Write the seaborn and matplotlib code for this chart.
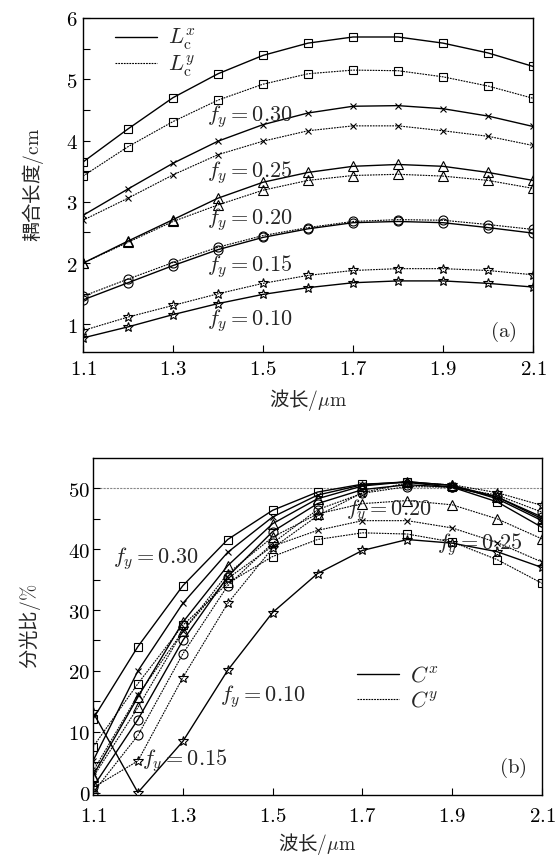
import numpy as np
import pandas as pd
import matplotlib
matplotlib.use("Agg")
import matplotlib.pyplot as plt
import seaborn as sns
from matplotlib.lines import Line2D
from matplotlib.ticker import FixedLocator

sns.set_style("ticks")
plt.rcParams["mathtext.fontset"] = "cm"
plt.rcParams["font.family"] = ["Noto Sans CJK SC", "DejaVu Sans"]
plt.rcParams["xtick.direction"] = "in"
plt.rcParams["ytick.direction"] = "in"

# ---------------- data ----------------
wavelength = [1.1, 1.2, 1.3, 1.4, 1.5, 1.6, 1.7, 1.8, 1.9, 2.0, 2.1]
fy_values = ["0.30", "0.25", "0.20", "0.15", "0.10"]
marker_list = ["s", "x", "^", "o", "*"]

# (a) coupling length / cm
Lx_030 = [3.65, 4.19, 4.70, 5.09, 5.39, 5.59, 5.69, 5.69, 5.59, 5.43, 5.21]
Ly_030 = [3.42, 3.90, 4.31, 4.66, 4.92, 5.09, 5.15, 5.14, 5.04, 4.89, 4.69]
Lx_025 = [2.78, 3.21, 3.63, 3.99, 4.26, 4.45, 4.56, 4.57, 4.52, 4.40, 4.23]
Ly_025 = [2.70, 3.06, 3.44, 3.77, 3.99, 4.16, 4.24, 4.24, 4.16, 4.07, 3.92]
Lx_020 = [2.00, 2.36, 2.71, 3.06, 3.32, 3.48, 3.58, 3.61, 3.58, 3.48, 3.35]
Ly_020 = [2.00, 2.34, 2.68, 2.95, 3.19, 3.35, 3.43, 3.45, 3.42, 3.35, 3.22]
Lx_015 = [1.40, 1.68, 1.96, 2.22, 2.42, 2.56, 2.66, 2.68, 2.66, 2.58, 2.49]
Ly_015 = [1.46, 1.74, 2.01, 2.26, 2.45, 2.58, 2.68, 2.71, 2.70, 2.63, 2.55]
Lx_010 = [0.78, 0.96, 1.16, 1.34, 1.49, 1.60, 1.68, 1.71, 1.71, 1.67, 1.61]
Ly_010 = [0.90, 1.12, 1.31, 1.50, 1.67, 1.80, 1.88, 1.91, 1.91, 1.88, 1.81]

# (b) splitting ratio / %
Cx_030 = [12.1, 24.0, 34.0, 41.6, 46.4, 49.4, 50.7, 51.0, 50.2, 47.8, 43.6]
Cy_030 = [7.5, 17.9, 27.5, 34.4, 38.8, 41.6, 42.7, 42.5, 41.2, 38.3, 34.4]
Cx_025 = [5.2, 20.0, 31.1, 39.5, 45.3, 48.9, 50.6, 51.1, 50.5, 48.3, 44.7]
Cy_025 = [3.5, 16.0, 26.5, 35.2, 40.5, 43.1, 44.7, 44.7, 43.5, 41.1, 37.9]
Cx_020 = [2.8, 15.7, 28.0, 37.3, 44.2, 48.3, 50.4, 51.1, 50.5, 48.6, 45.0]
Cy_020 = [2.5, 14.0, 26.5, 36.0, 42.0, 45.8, 47.5, 48.0, 47.3, 45.0, 41.7]
Cx_015 = [0.9, 12.0, 25.0, 35.5, 42.9, 47.5, 49.8, 50.6, 50.2, 48.6, 45.3]
Cy_015 = [0.0, 9.4, 22.8, 34.0, 41.0, 46.5, 49.2, 50.3, 50.2, 48.9, 46.1]
Cx_010 = [13.2, 0.0, 8.4, 20.1, 29.6, 36.0, 39.8, 41.6, 41.0, 39.6, 37.0]
Cy_010 = [0.8, 5.2, 18.9, 31.1, 40.2, 45.5, 49.3, 50.9, 50.6, 49.3, 47.2]
half_line = 50

top_series = [(Lx_030, Ly_030), (Lx_025, Ly_025), (Lx_020, Ly_020),
              (Lx_015, Ly_015), (Lx_010, Ly_010)]
bot_series = [(Cx_030, Cy_030), (Cx_025, Cy_025), (Cx_020, Cy_020),
              (Cx_015, Cy_015), (Cx_010, Cy_010)]

# label positions (data coords)
top_label_pos = [(1.375, 4.39), (1.375, 3.48), (1.375, 2.71), (1.375, 1.94), (1.375, 1.07)]
bot_label_pos = {"0.30": (1.144, 38.5), "0.25": (1.867, 40.8), "0.20": (1.664, 46.4),
                 "0.15": (1.209, 5.3), "0.10": (1.382, 15.8)}

# ---------------- figure ----------------
W, H = 558, 856
fig = plt.figure(figsize=(W / 100, H / 100), dpi=100)
ax1 = fig.add_axes([83 / W, 1 - 352 / H, 450 / W, 334 / H])
ax2 = fig.add_axes([93 / W, 1 - 795 / H, 449 / W, 337 / H])

msize = {"s": 5.5, "x": 4.5, "^": 6.5, "o": 6.5, "*": 7}
solid_ls = "-"
dash_ls = (0, (1.6, 0.9))


def draw(ax, x, y, mk, ls, lw):
    df = pd.DataFrame({"x": x, "y": y})
    sns.lineplot(data=df, x="x", y="y", ax=ax, color="black", linestyle=ls,
                 linewidth=lw, marker=mk, markersize=msize[mk],
                 markerfacecolor="none", markeredgecolor="black",
                 markeredgewidth=0.8, sort=False, legend=False)


for (sx, sy), mk in zip(top_series, marker_list):
    draw(ax1, wavelength, sx, mk, solid_ls, 1.0)
    draw(ax1, wavelength, sy, mk, dash_ls, 0.8)

ax2.axhline(half_line, color="#888888", linestyle=(0, (2, 1)), linewidth=0.8, zorder=0)
for (sx, sy), mk in zip(bot_series, marker_list):
    draw(ax2, wavelength, sx, mk, solid_ls, 1.0)
    draw(ax2, wavelength, sy, mk, dash_ls, 0.8)

xt = [1.1, 1.3, 1.5, 1.7, 1.9, 2.1]
for ax in (ax1, ax2):
    ax.set_xlim(1.1, 2.1)
    ax.set_xticks(xt)
    ax.set_xticklabels([f"${t}$" for t in xt], fontsize=15)
    for s in ax.spines.values():
        s.set_visible(True)
        s.set_linewidth(1.0)
        s.set_color("black")
    ax.tick_params(axis="both", which="both", direction="in", length=5, width=0.8,
                   colors="black", labelsize=15, top=False, right=False)
    ax.tick_params(axis="x", pad=4)
    ax.tick_params(axis="y", pad=4)
    ax.set_facecolor("white")

ax1.set_ylim(0.55, 6.0)
ax1.yaxis.set_major_locator(FixedLocator([1, 2, 3, 4, 5, 6]))
ax1.set_yticklabels([f"${v}$" for v in [1, 2, 3, 4, 5, 6]])
ax1.yaxis.set_minor_locator(FixedLocator([1.5, 2.5, 3.5, 4.5, 5.5]))

ax2.set_ylim(-0.4, 55)
ax2.yaxis.set_major_locator(FixedLocator([0, 10, 20, 30, 40, 50]))
ax2.set_yticklabels([f"${v}$" for v in [0, 10, 20, 30, 40, 50]])
ax2.yaxis.set_minor_locator(FixedLocator([5, 15, 25, 35, 45]))
ax2.tick_params(axis="y", pad=2)
ax2.tick_params(axis="x", pad=7)

ax1.set_xlabel("波长$/\\mu\\mathrm{m}$", fontsize=14, labelpad=5)
ax1.set_ylabel("耦合长度$/\\mathrm{cm}$", fontsize=14, labelpad=14)
ax2.set_xlabel("波长$/\\mu\\mathrm{m}$", fontsize=14, labelpad=3)
ax2.set_ylabel("分光比$/\\%$", fontsize=14, labelpad=18)

for fy, (lx, ly) in zip(fy_values, top_label_pos):
    ax1.text(lx, ly, f"$f_y = {fy}$", fontsize=16, ha="left", va="center")
for fy, (lx, ly) in bot_label_pos.items():
    ax2.text(lx, ly, f"$f_y = {fy}$", fontsize=16, ha="left", va="center")

ax1.text(0.933, 0.06, "$\\mathrm{(a)}$", transform=ax1.transAxes, fontsize=15,
         ha="center", va="center")
ax2.text(0.935, 0.08, "$\\mathrm{(b)}$", transform=ax2.transAxes, fontsize=15,
         ha="center", va="center")

h_solid = Line2D([], [], color="black", linestyle=solid_ls, linewidth=1.0)
h_dash = Line2D([], [], color="black", linestyle=dash_ls, linewidth=0.8)
ax1.legend([h_solid, h_dash], ["$L_\\mathrm{c}^x$", "$L_\\mathrm{c}^y$"],
           loc="upper left", bbox_to_anchor=(0.071, 0.975), frameon=False,
           fontsize=16, handlelength=1.9, handletextpad=0.5, labelspacing=0.05,
           borderpad=0, borderaxespad=0)
ax2.legend([h_solid, h_dash], ["$C^x$", "$C^y$"],
           loc="upper left", bbox_to_anchor=(0.588, 0.39), frameon=False,
           fontsize=16, handlelength=1.9, handletextpad=0.5, labelspacing=0.1,
           borderpad=0, borderaxespad=0)

fig.savefig("out.png", dpi=100, facecolor="white")
